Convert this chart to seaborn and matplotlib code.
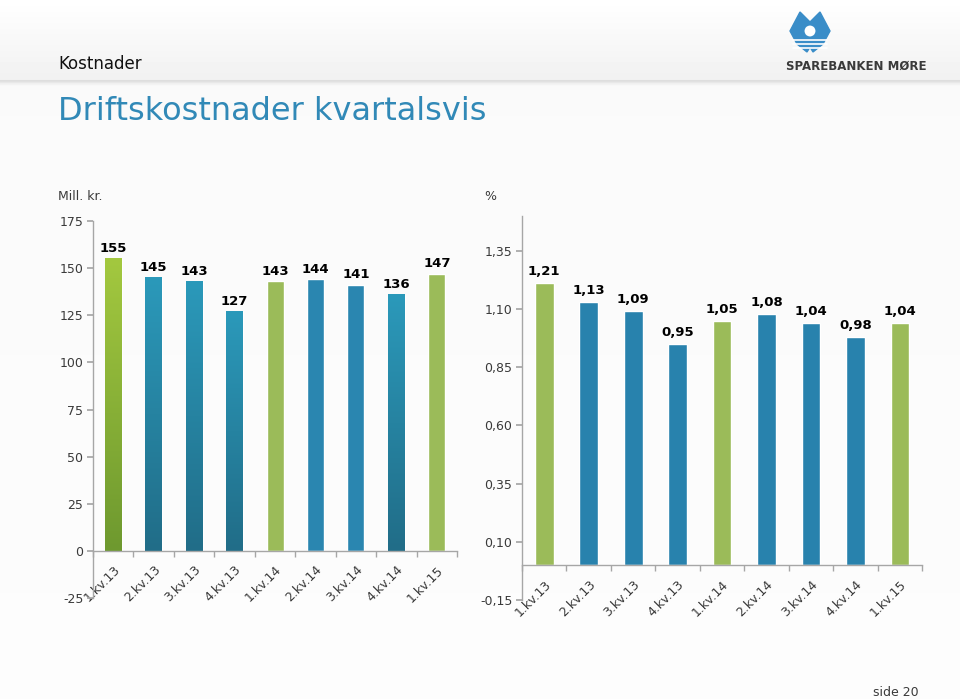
import numpy as np
import pandas as pd
import seaborn as sns
import matplotlib.pyplot as plt
from matplotlib.colors import LinearSegmentedColormap
from matplotlib.patches import Polygon, Circle

# data
quarters = ["1.kv.13", "2.kv.13", "3.kv.13", "4.kv.13", "1.kv.14",
            "2.kv.14", "3.kv.14", "4.kv.14", "1.kv.15"]
cost_mnok = [155, 145, 143, 127, 143, 144, 141, 136, 147]
cost_pct = [1.21, 1.13, 1.09, 0.95, 1.05, 1.08, 1.04, 0.98, 1.04]

mnok_ticks = [-25, 0, 25, 50, 75, 100, 125, 150, 175]
pct_ticks = [-0.15, 0.10, 0.35, 0.60, 0.85, 1.10, 1.35]

# styles
GREEN = "#9bbb59"
BLUE = "#2a86b0"
GRAD = {
    "green": ("#6e992f", "#a3c83f"),
    "teal": ("#216d88", "#2b99ba"),
}
left_fills = ["green", "teal", "teal", "teal", GREEN, BLUE, BLUE, "teal", GREEN]
right_fills = [GREEN, "#2882ad", "#2882ad", "#2882ad", GREEN,
               "#2882ad", "#2882ad", "#2882ad", GREEN]
SPINE = "#a6a6a6"
TEXT = "#3a3a3a"

sns.set_theme(style="white")
plt.rcParams["font.family"] = ["DejaVu Sans"]

fig = plt.figure(figsize=(9.6, 6.99), dpi=100)

# slide background with header band
bg = fig.add_axes([0, 0, 1, 1], zorder=-10)
shade = np.full(699, 0.985)
shade[:80] = np.linspace(1.0, 0.945, 80)
shade[80:87] = [0.87, 0.88, 0.91, 0.94, 0.955, 0.97, 0.98]
shade[87:] = np.linspace(0.98, 0.99, 699 - 87)
bg.imshow(shade.reshape(-1, 1), cmap="gray", vmin=0, vmax=1, aspect="auto",
          extent=[0, 960, 699, 0])
bg.set_xlim(0, 960)
bg.set_ylim(699, 0)
bg.axis("off")

# logo
bg.add_patch(Polygon([(790, 31), (800, 12), (810, 22), (820, 12), (830, 31),
                      (823, 44), (813, 52), (810, 47), (807, 52), (797, 44)],
                     closed=True, color="#3a8dc8"))
for yy in (40, 44, 48):
    bg.plot([793, 827], [yy, yy], color="white", lw=1.2)
bg.add_patch(Circle((810, 31), 6.5, facecolor="white", edgecolor="#3a8dc8", lw=1.5))
bg.text(856, 66, "SPAREBANKEN MØRE", ha="center", va="center",
        fontsize=8.5, fontweight="bold", color=TEXT)

fig.text(58 / 960, 1 - 64 / 699, "Kostnader", fontsize=12, color="#111111",
         va="center", ha="left")
fig.text(58 / 960, 1 - 111 / 699, "Driftskostnader kvartalsvis", fontsize=23,
         color="#3189b7", va="center", ha="left")
fig.text(58 / 960, 1 - 196 / 699, "Mill. kr.", fontsize=9, color=TEXT, va="center")
fig.text(484 / 960, 1 - 196 / 699, "%", fontsize=9, color=TEXT, va="center")
fig.text(873 / 960, 1 - 692 / 699, "side 20", fontsize=9, color=TEXT, va="center")


def draw_panel(ax, values, fills, ticks, ylim, fmt, offset):
    df = pd.DataFrame({"kvartal": quarters, "verdi": values})
    flat = [f if f.startswith("#") else GRAD[f][1] for f in fills]
    sns.barplot(data=df, x="kvartal", y="verdi", hue="kvartal", palette=flat,
                legend=False, width=0.42, saturation=1, ax=ax)
    for patch, fill in zip(ax.patches, fills):
        if fill in GRAD:
            x0, y0 = patch.get_x(), patch.get_y()
            w, h = patch.get_width(), patch.get_height()
            cmap = LinearSegmentedColormap.from_list(fill, GRAD[fill])
            ax.imshow(np.linspace(0, 1, 100).reshape(-1, 1), origin="lower",
                      extent=[x0, x0 + w, y0, y0 + h], cmap=cmap, aspect="auto",
                      zorder=patch.get_zorder() + 0.1)
    for i, v in enumerate(values):
        ax.text(i, v + offset, fmt(v), ha="center", va="bottom",
                fontsize=9.5, fontweight="bold", color="black", zorder=5)

    ax.set_facecolor("none")
    ax.set_xlim(-0.5, len(quarters) - 0.5)
    ax.set_ylim(*ylim)
    ax.set_xlabel("")
    ax.set_ylabel("")
    for side in ("top", "right"):
        ax.spines[side].set_visible(False)
    ax.spines["bottom"].set_position(("data", 0))
    for side in ("left", "bottom"):
        ax.spines[side].set_color(SPINE)
        ax.spines[side].set_linewidth(1)

    ax.set_yticks(ticks)
    ax.set_yticklabels([fmt(t) for t in ticks])
    ax.tick_params(axis="y", length=4, color=SPINE, labelsize=9,
                   labelcolor=TEXT, pad=3, left=True)
    ax.set_xticks(range(len(quarters)))
    ax.set_xticklabels(quarters, rotation=45, ha="right", rotation_mode="anchor")
    ax.set_xticks(np.arange(-0.5, len(quarters), 1), minor=True)
    ax.tick_params(axis="x", which="major", length=0, labelsize=9,
                   labelcolor=TEXT, pad=9)
    ax.tick_params(axis="x", which="minor", length=4, color=SPINE,
                   direction="out", bottom=True)


ax1 = fig.add_axes([0.0969, 0.1445, 0.3792, 0.5393])
draw_panel(ax1, cost_mnok, left_fills, mnok_ticks, (-25, 175),
           lambda v: f"{v:.0f}", 2)

ax2 = fig.add_axes([0.5438, 0.1416, 0.4167, 0.5494])
draw_panel(ax2, cost_pct, right_fills, pct_ticks, (-0.15, 1.50),
           lambda v: f"{v:.2f}".replace(".", ","), 0.022)

fig.savefig("out.png", dpi=100)
